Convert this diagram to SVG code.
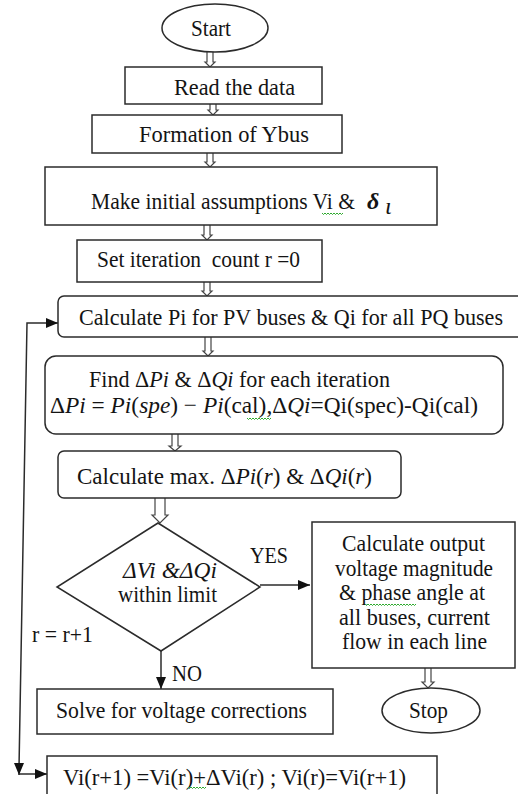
<svg xmlns="http://www.w3.org/2000/svg" width="518" height="794" viewBox="0 0 518 794" font-family="Liberation Serif, Times New Roman, serif">
<style>
  .bx{fill:#fff;stroke:#2b2b2b;stroke-width:1.5}
  .ln{fill:none;stroke:#2b2b2b;stroke-width:1.5}
  .ha{fill:#fff;stroke:#444;stroke-width:1.2}
  text{font-family:"Liberation Serif",serif}
  .t{font-size:24px;fill:#141414}
  .c{text-anchor:middle}
  .m{font-style:italic}
  .wv{fill:none;stroke:#2eaa2e;stroke-width:1}
</style>
<defs>
  <marker id="arr" viewBox="0 0 12 10" refX="12" refY="5" markerWidth="12" markerHeight="10" markerUnits="userSpaceOnUse" orient="auto">
    <path d="M0 0 L12 5 L0 10 z" fill="#111"/>
  </marker>
</defs>
<rect width="518" height="794" fill="#fff"/>

<g id="connectors">
  <path class="ha" d="M207 52 V62 H205 L210 67 L215 62 H213 V52"/>
  <path class="ha" d="M210 104 V110 H208 L213 115 L218 110 H216 V104"/>
  <path class="ha" d="M207 153 V162 H205 L210 167 L215 162 H213 V153"/>
  <path class="ha" d="M204 225 V235 H202 L207 240 L212 235 H210 V225"/>
  <path class="ha" d="M204 282 V291 H202 L207 296 L212 291 H210 V282"/>
  <path class="ha" d="M205 337 V351 H203 L208 356 L213 351 H211 V337"/>
  <path class="ha" d="M172 434 V446 H169 L175 451 L181 446 H178 V434"/>
  <path class="ha" d="M155 498 V515 H152 L160 523 L168 515 H165 V498"/>
  <path class="ha" d="M425 668 V682 H422 L428 688 L434 682 H431 V668"/>
  <path class="ln" d="M260 585 H310" marker-end="url(#arr)"/>
  <path class="ln" d="M161 651 V689" marker-end="url(#arr)"/>
  <path class="ln" d="M19 768 L27 323 H58" marker-end="url(#arr)"/>
  <path class="ln" d="M19 766 V775" marker-end="url(#arr)"/>
  <path class="ln" d="M19 774 H47" marker-end="url(#arr)"/>
</g>

<g id="start">
  <ellipse class="bx" cx="215" cy="28" rx="53" ry="24"/>
  <text class="t" x="191" y="36" textLength="40" lengthAdjust="spacingAndGlyphs">Start</text>
</g>
<g id="read">
  <rect class="bx" x="125" y="67" width="197" height="37"/>
  <text class="t" x="174" y="95" textLength="121" lengthAdjust="spacingAndGlyphs">Read the data</text>
</g>
<g id="ybus">
  <rect class="bx" x="92" y="115" width="250" height="38"/>
  <text class="t" x="139" y="142" textLength="170" lengthAdjust="spacingAndGlyphs">Formation of Ybus</text>
</g>
<g id="init">
  <rect class="bx" x="45" y="167" width="392" height="58"/>
  <text class="t" x="91" y="209" textLength="264" lengthAdjust="spacingAndGlyphs">Make initial assumptions Vi &amp;</text>
  <text class="t m" x="367" y="209" font-weight="bold" font-size="22">δ</text>
  <text class="t m" x="385" y="214" font-size="12">ι</text>
  <path class="wv" d="M322 213 l1.5 1.5 l1.5 -1.5 l1.5 1.5 l1.5 -1.5 l1.5 1.5 l1.5 -1.5 l1.5 1.5 l1.5 -1.5 l1.5 1.5 l1.5 -1.5 l1.5 1.5 l1.5 -1.5 l1.5 1.5 l1.5 -1.5"/>
</g>
<g id="setr">
  <rect class="bx" x="77" y="240" width="245" height="42"/>
  <text class="t" x="97" y="267" textLength="203" lengthAdjust="spacingAndGlyphs">Set iteration&#160; count r =0</text>
</g>
<g id="calcpq">
  <rect class="bx" x="58" y="296" width="470" height="41" rx="6"/>
  <text class="t" x="79" y="325" textLength="424" lengthAdjust="spacingAndGlyphs">Calculate Pi for PV buses &amp; Qi for all PQ buses</text>
</g>
<g id="find">
  <rect class="bx" x="45" y="356" width="458" height="78" rx="11"/>
  <text class="t" x="89" y="387" textLength="301" lengthAdjust="spacingAndGlyphs">Find Δ<tspan class="m">Pi</tspan> &amp; Δ<tspan class="m">Qi</tspan> for each iteration</text>
  <text class="t" x="50" y="413" textLength="428" lengthAdjust="spacingAndGlyphs">Δ<tspan class="m">Pi</tspan> = <tspan class="m">Pi</tspan>(<tspan class="m">spe</tspan>) − <tspan class="m">Pi</tspan>(cal),Δ<tspan class="m">Qi</tspan>=Qi(spec)-Qi(cal)</text>
  <path class="wv" d="M247 418 l1.5 1.5 l1.5 -1.5 l1.5 1.5 l1.5 -1.5 l1.5 1.5 l1.5 -1.5 l1.5 1.5 l1.5 -1.5 l1.5 1.5 l1.5 -1.5 l1.5 1.5 l1.5 -1.5 l1.5 1.5 l1.5 -1.5 l1.5 1.5 l1.5 -1.5"/>
</g>
<g id="calcmax">
  <rect class="bx" x="58" y="451" width="343" height="47" rx="6"/>
  <text class="t" x="77" y="484" textLength="295" lengthAdjust="spacingAndGlyphs">Calculate max. Δ<tspan class="m">Pi</tspan>(<tspan class="m">r</tspan>) &amp; Δ<tspan class="m">Qi</tspan>(<tspan class="m">r</tspan>)</text>
</g>
<g id="decision">
  <polygon class="bx" points="158,523 260,587 161,651 57,587"/>
  <text class="t m" x="123" y="578" textLength="94" lengthAdjust="spacingAndGlyphs">ΔVi &amp;ΔQi</text>
  <text class="t" x="118" y="602" textLength="99" lengthAdjust="spacingAndGlyphs">within limit</text>
</g>
<g id="labels">
  <text class="t" x="250" y="563" textLength="38" lengthAdjust="spacingAndGlyphs">YES</text>
  <text class="t" x="172" y="681" textLength="30" lengthAdjust="spacingAndGlyphs">NO</text>
  <text class="t" x="32" y="642" textLength="61" lengthAdjust="spacingAndGlyphs">r = r+1</text>
</g>
<g id="output">
  <rect class="bx" x="312" y="522" width="203" height="146"/>
  <text class="t c" x="413.5" y="551" textLength="143" lengthAdjust="spacingAndGlyphs">Calculate output</text>
  <text class="t c" x="414" y="575.5" textLength="158" lengthAdjust="spacingAndGlyphs">voltage magnitude</text>
  <text class="t c" x="412" y="600" textLength="146" lengthAdjust="spacingAndGlyphs">&amp; phase angle at</text>
  <text class="t c" x="414.5" y="624.5" textLength="151" lengthAdjust="spacingAndGlyphs">all buses, current</text>
  <text class="t c" x="414.5" y="649" textLength="145" lengthAdjust="spacingAndGlyphs">flow in each line</text>
  <path class="wv" d="M365 604 l1.5 1.5 l1.5 -1.5 l1.5 1.5 l1.5 -1.5 l1.5 1.5 l1.5 -1.5 l1.5 1.5 l1.5 -1.5 l1.5 1.5 l1.5 -1.5 l1.5 1.5 l1.5 -1.5 l1.5 1.5 l1.5 -1.5 l1.5 1.5 l1.5 -1.5 l1.5 1.5 l1.5 -1.5 l1.5 1.5 l1.5 -1.5 l1.5 1.5 l1.5 -1.5 l1.5 1.5 l1.5 -1.5 l1.5 1.5 l1.5 -1.5 l1.5 1.5 l1.5 -1.5 l1.5 1.5 l1.5 -1.5 l1.5 1.5 l1.5 -1.5 l1.5 1.5 l1.5 -1.5"/>
</g>
<g id="stop">
  <ellipse class="bx" cx="431" cy="710.5" rx="49" ry="22.5"/>
  <text class="t" x="409" y="718" textLength="39" lengthAdjust="spacingAndGlyphs">Stop</text>
</g>
<g id="solve">
  <rect class="bx" x="37" y="689" width="296" height="45"/>
  <text class="t" x="56" y="718" textLength="251" lengthAdjust="spacingAndGlyphs">Solve for voltage corrections</text>
</g>
<g id="update">
  <rect class="bx" x="47" y="756" width="390" height="50"/>
  <text class="t" x="63" y="785" textLength="343" lengthAdjust="spacingAndGlyphs">Vi(r+1) =Vi(r)+ΔVi(r) ; Vi(r)=Vi(r+1)</text>
  <path class="wv" d="M188 787 l1.5 1.5 l1.5 -1.5 l1.5 1.5 l1.5 -1.5 l1.5 1.5 l1.5 -1.5 l1.5 1.5 l1.5 -1.5 l1.5 1.5 l1.5 -1.5 l1.5 1.5 l1.5 -1.5"/>
</g>
</svg>
